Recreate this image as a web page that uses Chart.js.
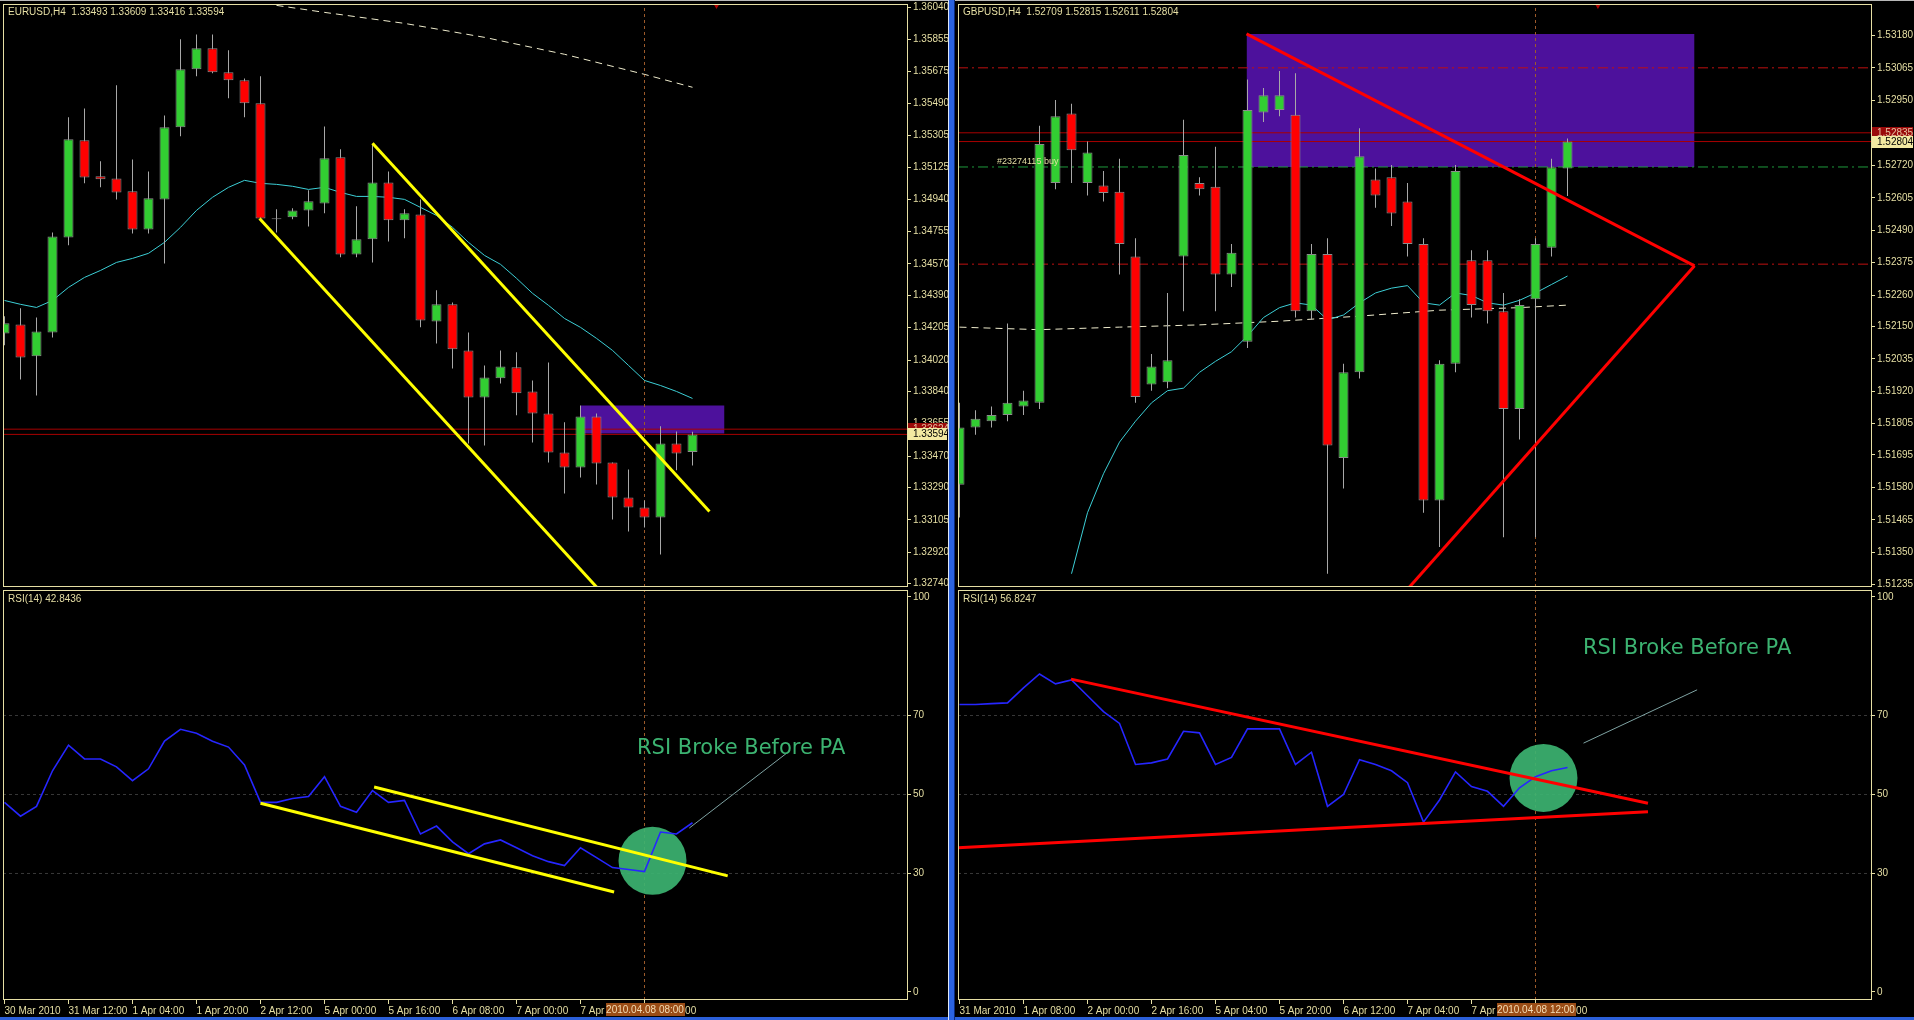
<!DOCTYPE html>
<html>
<head>
<meta charset="utf-8">
<script src="https://cdn.jsdelivr.net/npm/chart.js@4.4.0/dist/chart.umd.min.js"></script>
<style>
  html, body { margin: 0; padding: 0; width: 1914px; height: 1020px; overflow: hidden; background: #2b5fd9; }
  .win { position: absolute; background: #000; }
  canvas { position: absolute; }
  .txt { position: absolute; font: 10px "Liberation Sans", sans-serif; color: #e6dfa4; white-space: pre; }
  .note { position: absolute; font: 21px "DejaVu Sans", sans-serif; color: #3cb371; white-space: nowrap; }
</style>
</head>
<body>
<div class="win" style="left:0;top:0;width:948px;height:1017px"></div>
<div class="win" style="left:955px;top:0;width:959px;height:1017px"></div>
<div style="position:absolute;left:0;top:0;width:1914px;height:1px;background:#b8b8b8"></div>
<div style="position:absolute;left:948px;top:0;width:7px;height:1020px;background:linear-gradient(90deg,#dfe7f7 0,#dfe7f7 1px,#2b63e0 1px,#2b63e0 6px,#0b2a7a 6px)"></div>

<canvas id="eurPrice" width="948" height="590" style="left:0;top:0"></canvas>
<canvas id="eurRsi" width="948" height="431" style="left:0;top:589px"></canvas>
<canvas id="gbpPrice" width="959" height="590" style="left:955px;top:0"></canvas>
<canvas id="gbpRsi" width="959" height="431" style="left:955px;top:589px"></canvas>

<div class="txt" style="left:8px;top:6px">EURUSD,H4  1.33493 1.33609 1.33416 1.33594</div>
<div class="txt" style="left:8px;top:593px">RSI(14) 42.8436</div>
<div class="txt" style="left:963px;top:6px">GBPUSD,H4  1.52709 1.52815 1.52611 1.52804</div>
<div class="txt" style="left:963px;top:593px">RSI(14) 56.8247</div>
<div class="txt" style="left:997px;top:156px;font-size:9px">#23274115 buy</div>
<div class="note" style="left:637px;top:735px">RSI Broke Before PA</div>
<div class="note" style="left:1583px;top:635px">RSI Broke Before PA</div>

<script>
// ---------- EURUSD H4 ----------
const eurOpen  = [1.34172,1.34224,1.34041,1.34178,1.34722,1.35278,1.35072,1.35060,1.34986,1.34768,1.34940,1.35353,1.35685,1.35805,1.35668,1.35622,1.35490,1.34831,1.34837,1.34877,1.34917,1.35181,1.34625,1.34711,1.35037,1.34820,1.34854,1.34241,1.34339,1.34075,1.33806,1.33915,1.33978,1.33840,1.33714,1.33491,1.33405,1.33697,1.33433,1.33233,1.33176,1.33118,1.33542,1.33493];
const eurHigh  = [1.34270,1.34316,1.34264,1.34751,1.35410,1.35461,1.35158,1.35593,1.35169,1.35100,1.35421,1.35857,1.35885,1.35885,1.35794,1.35633,1.35645,1.34883,1.34889,1.34992,1.35358,1.35227,1.34900,1.35255,1.35100,1.34883,1.34940,1.34419,1.34350,1.34178,1.33989,1.34075,1.34064,1.33903,1.34006,1.33663,1.33760,1.33714,1.33433,1.33393,1.33216,1.33640,1.33611,1.33609];
const eurLow   = [1.34104,1.33909,1.33817,1.34149,1.34677,1.35032,1.35009,1.34940,1.34745,1.34745,1.34573,1.35301,1.35645,1.35662,1.35519,1.35410,1.34820,1.34751,1.34826,1.34785,1.34860,1.34608,1.34608,1.34579,1.34699,1.34717,1.34207,1.34115,1.33972,1.33542,1.33531,1.33886,1.33703,1.33548,1.33433,1.33256,1.33347,1.33307,1.33107,1.33038,1.33061,1.32906,1.33388,1.33416];
const eurClose = [1.34230,1.34035,1.34184,1.34728,1.35284,1.35066,1.35055,1.34980,1.34768,1.34946,1.35353,1.35685,1.35805,1.35668,1.35622,1.35490,1.34831,1.34826,1.34877,1.34929,1.35175,1.34625,1.34711,1.35037,1.34820,1.34860,1.34247,1.34339,1.34081,1.33806,1.33920,1.33983,1.33829,1.33714,1.33491,1.33405,1.33697,1.33428,1.33233,1.33176,1.33118,1.33542,1.33485,1.33594];
const eurMaFast = [1.34361,1.34339,1.34321,1.34361,1.34436,1.34493,1.34533,1.34579,1.34602,1.34631,1.34694,1.34780,1.34877,1.34952,1.35009,1.35049,1.35032,1.35026,1.35015,1.34997,1.35009,1.34980,1.34957,1.34957,1.34952,1.34940,1.34894,1.34848,1.34780,1.34694,1.34619,1.34568,1.34488,1.34402,1.34333,1.34258,1.34207,1.34144,1.34075,1.33989,1.33903,1.33874,1.33840,1.33800];
const eurMaSlowX = [17, 20, 25, 30, 35, 40, 43];
const eurMaSlowY = [1.36051, 1.36011, 1.35948, 1.35868, 1.35771, 1.35656, 1.35582];
const eurRsi = [48,44.5,47,56,62.5,59,59,57,53.5,56.5,63.5,66.5,65.5,63.5,62,57.5,48,48,49,49.5,54.5,47,45.5,51,48,48.5,40,42,38,35,37.5,38.5,36.5,34.5,33,32,36.5,34,31.5,31,30.5,40.5,40,42.84];
const eurPriceTicks = [1.36040,1.35855,1.35675,1.35490,1.35305,1.35125,1.34940,1.34755,1.34570,1.34390,1.34205,1.34020,1.33840,1.33655,1.33470,1.33290,1.33105,1.32920,1.32740];
const eurDateTicks = [0,4,8,12,16,20,24,28,32,36,40];
const eurDateLabels = ['30 Mar 2010','31 Mar 12:00','1 Apr 04:00','1 Apr 20:00','2 Apr 12:00','5 Apr 00:00','5 Apr 16:00','6 Apr 08:00','7 Apr 00:00','7 Apr 16:00','8 Apr 08:00'];
const eurChannelUpper = [[23.0, 1.35261], [44.06, 1.33153]];
const eurChannelLower = [[15.94, 1.34831], [37.2, 1.32700]];
const eurBoxX = [36, 45];
const eurBoxY = [1.33599, 1.33760];
const eurBidAsk = [1.33594, 1.33624];
const eurCursor = 40;
const eurCursorLabel = '2010.04.08 08:00';
const eurMarkerX = 44.5;
const eurRsiUpper = [[23.1, 51.9], [45.2, 29.4]];
const eurRsiLower = [[16.0, 47.8], [38.1, 25.3]];
const eurCircle = [40.5, 33.2];
const eurPointer = [[42.8, 41.5], [48.9, 60.5]];

// ---------- GBPUSD H4 ----------
const gbpOpen  = [1.51589,1.51792,1.51814,1.51836,1.51866,1.51879,1.52657,1.52903,1.52657,1.52648,1.52626,1.52397,1.51944,1.51952,1.52397,1.52657,1.52644,1.52333,1.52095,1.52907,1.52916,1.52899,1.52203,1.52406,1.51684,1.51987,1.52670,1.52678,1.52592,1.52441,1.51533,1.52017,1.52384,1.52384,1.52203,1.51857,1.52246,1.52428,1.52709];
const gbpHigh  = [1.51879,1.51853,1.51866,1.52160,1.51922,1.52860,1.52951,1.52938,1.52804,1.52700,1.52743,1.52462,1.52052,1.52268,1.52881,1.52678,1.52786,1.52441,1.53024,1.52994,1.53054,1.53046,1.52441,1.52462,1.52017,1.52851,1.52709,1.52721,1.52657,1.52462,1.52030,1.52721,1.52419,1.52419,1.52268,1.52246,1.52462,1.52743,1.52815];
const gbpLow   = [1.51473,1.51766,1.51792,1.51814,1.51836,1.51857,1.52635,1.52657,1.52613,1.52592,1.52333,1.51879,1.51922,1.51931,1.52203,1.52613,1.52203,1.52289,1.52073,1.52873,1.52894,1.52181,1.52173,1.51274,1.51576,1.51965,1.52570,1.52505,1.52397,1.51490,1.51369,1.51987,1.52181,1.52160,1.51403,1.51749,1.51403,1.52397,1.52611];
const gbpClose = [1.51792,1.51823,1.51836,1.51879,1.51887,1.52795,1.52894,1.52773,1.52765,1.52622,1.52441,1.51900,1.52008,1.52030,1.52756,1.52635,1.52333,1.52410,1.52916,1.52968,1.52968,1.52203,1.52406,1.51728,1.51987,1.52752,1.52613,1.52549,1.52441,1.51533,1.52017,1.52700,1.52225,1.52203,1.51857,1.52225,1.52441,1.52713,1.52804];
const gbpMaFastX = [7,8,9,10,11,12,13,14,15,16,17,18,19,20,21,22,23,24,25,26,27,28,29,30,31,32,33,34,35,36,37,38];
const gbpMaFastY = [1.51274,1.51490,1.51628,1.51740,1.51814,1.51879,1.51922,1.51931,1.51987,1.52026,1.52060,1.52116,1.52181,1.52216,1.52233,1.52225,1.52173,1.52190,1.52233,1.52268,1.52285,1.52294,1.52233,1.52225,1.52268,1.52259,1.52233,1.52225,1.52242,1.52268,1.52298,1.52328];
const gbpMaSlowX = [0, 5, 10, 15, 20, 25, 30, 35, 38];
const gbpMaSlowY = [1.52147,1.52138,1.52147,1.52155,1.52168,1.52186,1.52207,1.52216,1.52225];
const gbpRsi = [72.8,72.8,73,73.2,77,80.5,78,79,75,71,68,57.6,58,59,66,65.6,57.6,59.4,66.6,66.6,66.6,57.6,60.7,47,50,58.8,57.6,56,53,43,48.6,55.7,52,50.8,47,51.7,54.5,56,56.82];
const gbpPriceTicks = [1.53180,1.53065,1.52950,1.52835,1.52720,1.52605,1.52490,1.52375,1.52260,1.52150,1.52035,1.51920,1.51805,1.51695,1.51580,1.51465,1.51350,1.51235];
const gbpDateTicks = [0,4,8,12,16,20,24,28,32,36];
const gbpDateLabels = ['31 Mar 2010','1 Apr 08:00','2 Apr 00:00','2 Apr 16:00','5 Apr 04:00','5 Apr 20:00','6 Apr 12:00','7 Apr 04:00','7 Apr 20:00','8 Apr 12:00'];
const gbpTriUpper = [[17.94, 1.53185], [45.94, 1.52364]];
const gbpTriLower = [[45.94, 1.52364], [27.7, 1.51200]];
const gbpBoxX = [17.94, 45.94];
const gbpBoxY = [1.52714, 1.53185];
const gbpBidAsk = [1.52804, 1.52835];
const gbpRedLevels = [1.53065, 1.52370];
const gbpOrderLevel = 1.52714;
const gbpCursor = 36;
const gbpCursorLabel = '2010.04.08 12:00';
const gbpMarkerX = 39.9;
const gbpRsiUpper = [[6.97, 79.2], [43.03, 47.8]];
const gbpRsiLower = [[-0.3, 36.5], [43.03, 45.6]];
const gbpCircle = [36.5, 54.2];
const gbpPointer = [[39.0, 63.0], [46.1, 76.5]];

const rsiTicks = [100, 70, 50, 30, 0];
const rsiLevels = [70, 50, 30];

// ---------- styling ----------
const C = {
  fg: '#e6dfa4', up: '#32cd32', down: '#ff0000', wick: '#a8a8a8', edge: '#8c8c8c',
  fast: '#3ccfd6', slow: '#efeccd', rsi: '#2626ff', cursor: '#9c5a2a', purple: '#4d119c',
  yellow: '#ffff00', red: '#ff0000', hline: '#a80000', order: '#1e9a3c', level: '#383838',
  circle: 'rgba(60,179,113,0.92)', pointer: '#7fa3a3', ask: '#9a0a0a', bid: '#f3e9a2'
};
const FONT = { family: 'Liberation Sans', size: 10 };

const pts = arr => arr.map(([x, y]) => ({ x, y }));
const xy = (xs, ys) => xs.map((x, i) => ({ x, y: ys[i] }));
const flat = (v, a, b) => [{ x: a, y: v }, { x: b, y: v }];

const framePlugin = {
  id: 'frame',
  afterDraw(chart) {
    const { ctx, chartArea: a } = chart;
    ctx.save();
    ctx.strokeStyle = C.fg;
    ctx.lineWidth = 1;
    ctx.strokeRect(a.left + 0.5, a.top + 0.5, a.right - a.left, a.bottom - a.top - 1);
    ctx.restore();
  }
};

const tagPlugin = {
  id: 'tags',
  afterDraw(chart, args, opts) {
    const { ctx } = chart;
    ctx.save();
    ctx.font = '10px "Liberation Sans"';
    ctx.textBaseline = 'middle';
    (opts.y || []).forEach(t => {
      const s = chart.scales.y;
      const py = Math.round(s.getPixelForValue(t.value));
      ctx.fillStyle = t.bg;
      ctx.fillRect(s.left + 1, py - 6, s.width - 2, 12);
      ctx.fillStyle = t.fg;
      ctx.textAlign = 'left';
      ctx.fillText(t.value.toFixed(5), s.left + 6, py + 0.5);
    });
    (opts.x || []).forEach(t => {
      const s = chart.scales.x;
      const px = Math.round(s.getPixelForValue(t.value));
      ctx.fillStyle = '#9a4c16';
      ctx.fillRect(px - 39, s.top + 3, 79, 13);
      ctx.fillStyle = '#f4dcb4';
      ctx.textAlign = 'center';
      ctx.fillText(t.text, px, s.top + 10);
    });
    ctx.restore();
  }
};

function lineSet(data, color, width, extra) {
  return Object.assign({ type: 'line', data, borderColor: color, borderWidth: width, pointRadius: 0, fill: false, tension: 0 }, extra || {});
}

function candleSets(open, high, low, close) {
  return [
    { type: 'bar', data: open.map((o, i) => ({ x: i, y: [low[i], high[i]] })), barThickness: 1, inflateAmount: 0,
      backgroundColor: C.wick, grouped: false, order: 7 },
    { type: 'bar', data: open.map((o, i) => ({ x: i, y: [o, close[i]] })), barThickness: 10, minBarLength: 1, inflateAmount: 0,
      backgroundColor: open.map((o, i) => close[i] >= o ? C.up : C.down), borderColor: C.edge, borderWidth: 1,
      borderSkipped: false, grouped: false, order: 6 }
  ];
}

function yAxis(min, max, width, ticks, fmt) {
  return {
    position: 'right', min, max,
    afterFit(s) { s.width = width; s.paddingTop = 0; s.paddingBottom = 0; },
    afterBuildTicks(s) { s.ticks = ticks.map(v => ({ value: v })); },
    ticks: { autoSkip: false, padding: 2, color: C.fg, font: FONT, callback: fmt },
    grid: { drawOnChartArea: false, tickLength: 4, color: C.fg },
    border: { display: false }
  };
}

function xAxis(min, max, ticks, labels) {
  const show = !!ticks;
  return {
    type: 'linear', min, max, offset: false, display: show,
    afterFit(s) {
      s.height = show ? 20 : 0;
      s.paddingLeft = 0; s.paddingRight = 0;
    },
    afterBuildTicks(s) { if (show) s.ticks = ticks.map(v => ({ value: v })); },
    ticks: { autoSkip: false, maxRotation: 0, minRotation: 0, align: 'start', padding: 1, color: C.fg, font: FONT,
      callback: (v, i) => labels ? labels[i] : '' },
    grid: { drawOnChartArea: false, tickLength: 4, color: C.fg, offset: false },
    border: { display: false }
  };
}

function baseOptions(x, y, padding, tags) {
  return {
    responsive: false, animation: false, events: [],
    layout: { padding, autoPadding: false },
    plugins: { legend: { display: false }, tooltip: { enabled: false }, tags },
    scales: { x, y }
  };
}

function priceChart(id, p) {
  const datasets = [
    lineSet(flat(p.boxY[1], p.boxX[0], p.boxX[1]), 'rgba(0,0,0,0)', 0, { fill: '+1', backgroundColor: C.purple, order: 30 }),
    lineSet(flat(p.boxY[0], p.boxX[0], p.boxX[1]), 'rgba(0,0,0,0)', 0, { order: 30 }),
    lineSet(flat(p.bidAsk[0], p.xMin, p.xMax), C.hline, 1, { order: 25 }),
    lineSet(flat(p.bidAsk[1], p.xMin, p.xMax), C.hline, 1, { order: 25 }),
    lineSet([{ x: p.cursor, y: p.yMin }, { x: p.cursor, y: p.yMax }], C.cursor, 1, { borderDash: [3, 3], order: 24 }),
    lineSet(p.slow, C.slow, 1, { borderDash: [7, 5], order: 10 }),
    lineSet(p.fast, C.fast, 1, { order: 9 }),
    ...candleSets(p.open, p.high, p.low, p.close),
    lineSet([{ x: p.markerX, y: p.yMax }], C.hline, 0, { showLine: false, pointRadius: 5, pointStyle: 'triangle',
      pointRotation: 180, pointBackgroundColor: '#b00000', pointBorderWidth: 0, order: 2 })
  ];
  (p.extraLines || []).forEach(l => datasets.push(l));
  p.trend.forEach(t => datasets.push(lineSet(pts(t), p.trendColor, 3, { order: 1 })));
  return new Chart(document.getElementById(id), {
    type: 'bar',
    data: { datasets },
    options: baseOptions(
      xAxis(p.xMin, p.xMax, null, null),
      yAxis(p.yMin, p.yMax, p.axisW, p.ticks, v => v.toFixed(5)),
      { left: 3, top: 4, right: 0, bottom: 3 },
      { y: [{ value: p.bidAsk[1], bg: C.ask, fg: '#e6c0a0' }, { value: p.bidAsk[0], bg: C.bid, fg: '#000' }] }
    ),
    plugins: [framePlugin, tagPlugin]
  });
}

function rsiChart(id, r) {
  const datasets = [];
  rsiLevels.forEach(v => datasets.push(lineSet(flat(v, r.xMin, r.xMax), C.level, 1, { borderDash: [3, 3], order: 30 })));
  datasets.push(lineSet([{ x: r.cursor, y: -2.03 }, { x: r.cursor, y: 101.77 }], C.cursor, 1, { borderDash: [3, 3], order: 28 }));
  datasets.push(lineSet([{ x: r.circle[0], y: r.circle[1] }], C.circle, 0, { showLine: false, pointRadius: 34,
    pointBackgroundColor: C.circle, pointBorderWidth: 0, order: 26 }));
  datasets.push(lineSet(r.rsi.map((v, i) => ({ x: i, y: v })), C.rsi, 1.6, { order: 10 }));
  r.trend.forEach(t => datasets.push(lineSet(pts(t), r.trendColor, 3, { order: 5 })));
  datasets.push(lineSet(pts(r.pointer), C.pointer, 1, { order: 4 }));
  return new Chart(document.getElementById(id), {
    type: 'line',
    data: { datasets },
    options: baseOptions(
      xAxis(r.xMin, r.xMax, r.dateTicks, r.dateLabels),
      yAxis(-2.03, 101.77, r.axisW, rsiTicks, v => String(v)),
      { left: 3, top: 1, right: 0, bottom: 0 },
      { x: [{ value: r.cursor, text: r.cursorLabel }] }
    ),
    plugins: [framePlugin, tagPlugin]
  });
}

// EURUSD panel
priceChart('eurPrice', {
  open: eurOpen, high: eurHigh, low: eurLow, close: eurClose,
  fast: eurMaFast.map((v, i) => ({ x: i, y: v })), slow: xy(eurMaSlowX, eurMaSlowY),
  xMin: -0.09375, xMax: 56.40625, yMin: 1.32720, yMax: 1.36059, axisW: 41, ticks: eurPriceTicks,
  boxX: eurBoxX, boxY: eurBoxY, bidAsk: eurBidAsk, cursor: eurCursor, markerX: eurMarkerX,
  trend: [eurChannelUpper, eurChannelLower], trendColor: C.yellow
});
rsiChart('eurRsi', {
  rsi: eurRsi, xMin: -0.09375, xMax: 56.40625, axisW: 41, dateTicks: eurDateTicks, dateLabels: eurDateLabels,
  cursor: eurCursor, cursorLabel: eurCursorLabel, circle: eurCircle, pointer: eurPointer,
  trend: [eurRsiUpper, eurRsiLower], trendColor: C.yellow
});

// GBPUSD panel
priceChart('gbpPrice', {
  open: gbpOpen, high: gbpHigh, low: gbpLow, close: gbpClose,
  fast: xy(gbpMaFastX, gbpMaFastY), slow: xy(gbpMaSlowX, gbpMaSlowY),
  xMin: -0.09375, xMax: 56.96875, yMin: 1.51227, yMax: 1.53291, axisW: 43, ticks: gbpPriceTicks,
  boxX: gbpBoxX, boxY: gbpBoxY, bidAsk: gbpBidAsk, cursor: gbpCursor, markerX: gbpMarkerX,
  trend: [gbpTriUpper, gbpTriLower], trendColor: C.red,
  extraLines: [
    ...gbpRedLevels.map(v => lineSet(flat(v, -0.09375, 56.96875), '#c01010', 1, { borderDash: [10, 4, 2, 4], order: 26 })),
    lineSet(flat(gbpOrderLevel, -0.09375, 56.96875), C.order, 1, { borderDash: [10, 4, 2, 4], order: 26 })
  ]
});
rsiChart('gbpRsi', {
  rsi: gbpRsi, xMin: -0.09375, xMax: 56.96875, axisW: 43, dateTicks: gbpDateTicks, dateLabels: gbpDateLabels,
  cursor: gbpCursor, cursorLabel: gbpCursorLabel, circle: gbpCircle, pointer: gbpPointer,
  trend: [gbpRsiUpper, gbpRsiLower], trendColor: C.red
});
</script>
</body>
</html>
